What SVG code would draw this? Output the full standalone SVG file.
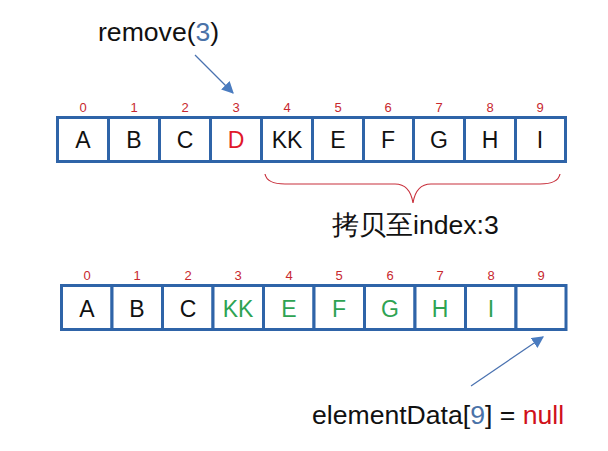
<svg xmlns="http://www.w3.org/2000/svg" width="608" height="451" viewBox="0 0 608 451">
<defs>
<style>
.cell{fill:#fff;stroke:#2F64A8;stroke-width:3}
.t{font-family:"Liberation Sans",Arial,sans-serif}
.idx{font-size:13px;fill:#C8282E;text-anchor:middle}
.v{font-size:23px;fill:#111;text-anchor:middle}
.red{fill:#E0182A}
.grn{fill:#2EA352}
.lbl{font-size:26.6px;fill:#111}
.blu{fill:#4A72A8}
.arr{stroke:#4A72B0;stroke-width:1.2;fill:none}
</style>
<marker id="ah" viewBox="0 0 10 10" refX="9" refY="5" markerWidth="12" markerHeight="12" markerUnits="userSpaceOnUse" orient="auto">
<path d="M0,0 L10,5 L0,10 z" fill="#4A7CC0"/>
</marker>
</defs>
<rect width="608" height="451" fill="#fff"/>
<g id="label-remove"><text class="t lbl" x="98" y="41">remove(<tspan class="blu">3</tspan>)</text></g>
<g id="row1">
<g id="r1c0"><rect class="cell" x="57.5" y="117.5" width="51" height="44"/><text class="t idx" x="83" y="112">0</text><text class="t v" x="83" y="148">A</text></g>
<g id="r1c1"><rect class="cell" x="108.5" y="117.5" width="51" height="44"/><text class="t idx" x="134" y="112">1</text><text class="t v" x="134" y="148">B</text></g>
<g id="r1c2"><rect class="cell" x="159.5" y="117.5" width="51" height="44"/><text class="t idx" x="185" y="112">2</text><text class="t v" x="185" y="148">C</text></g>
<g id="r1c3"><rect class="cell" x="210.5" y="117.5" width="51" height="44"/><text class="t idx" x="236" y="112">3</text><text class="t v red" x="236" y="148">D</text></g>
<g id="r1c4"><rect class="cell" x="261.5" y="117.5" width="51" height="44"/><text class="t idx" x="287" y="112">4</text><text class="t v" x="287" y="148">KK</text></g>
<g id="r1c5"><rect class="cell" x="312.5" y="117.5" width="51" height="44"/><text class="t idx" x="338" y="112">5</text><text class="t v" x="338" y="148">E</text></g>
<g id="r1c6"><rect class="cell" x="363.5" y="117.5" width="50" height="44"/><text class="t idx" x="388" y="112">6</text><text class="t v" x="388" y="148">F</text></g>
<g id="r1c7"><rect class="cell" x="413.5" y="117.5" width="51" height="44"/><text class="t idx" x="439" y="112">7</text><text class="t v" x="439" y="148">G</text></g>
<g id="r1c8"><rect class="cell" x="464.5" y="117.5" width="51" height="44"/><text class="t idx" x="490" y="112">8</text><text class="t v" x="490" y="148">H</text></g>
<g id="r1c9"><rect class="cell" x="515.5" y="117.5" width="50" height="44"/><text class="t idx" x="540" y="112">9</text><text class="t v" x="540" y="148">I</text></g>
</g>
<g id="brace"><path d="M265,174 Q267,184 285,184 L395,184 Q410,184 413,203 Q416,184 431,184 L540,184 Q558,184 560,174" fill="none" stroke="#C8303C" stroke-width="1.2"/></g>
<g id="label-copy"><text class="t lbl" x="332" y="234" font-size="27.5" font-family="'Liberation Sans','Noto Sans CJK SC',sans-serif">拷贝至index:3</text></g>
<g id="row2">
<g id="r2c0"><rect class="cell" x="61.5" y="285.5" width="50.5" height="44"/><text class="t idx" x="87" y="280">0</text><text class="t v" x="87" y="317">A</text></g>
<g id="r2c1"><rect class="cell" x="112" y="285.5" width="50.5" height="44"/><text class="t idx" x="137" y="280">1</text><text class="t v" x="137" y="317">B</text></g>
<g id="r2c2"><rect class="cell" x="162.5" y="285.5" width="50.5" height="44"/><text class="t idx" x="188" y="280">2</text><text class="t v" x="188" y="317">C</text></g>
<g id="r2c3"><rect class="cell" x="213" y="285.5" width="50.5" height="44"/><text class="t idx" x="238" y="280">3</text><text class="t v grn" x="238" y="317">KK</text></g>
<g id="r2c4"><rect class="cell" x="263.5" y="285.5" width="50.5" height="44"/><text class="t idx" x="289" y="280">4</text><text class="t v grn" x="289" y="317">E</text></g>
<g id="r2c5"><rect class="cell" x="314" y="285.5" width="50.5" height="44"/><text class="t idx" x="339" y="280">5</text><text class="t v grn" x="339" y="317">F</text></g>
<g id="r2c6"><rect class="cell" x="364.5" y="285.5" width="50.5" height="44"/><text class="t idx" x="390" y="280">6</text><text class="t v grn" x="390" y="317">G</text></g>
<g id="r2c7"><rect class="cell" x="415" y="285.5" width="50.5" height="44"/><text class="t idx" x="440" y="280">7</text><text class="t v grn" x="440" y="317">H</text></g>
<g id="r2c8"><rect class="cell" x="465.5" y="285.5" width="50.5" height="44"/><text class="t idx" x="491" y="280">8</text><text class="t v grn" x="491" y="317">I</text></g>
<g id="r2c9"><rect class="cell" x="516" y="285.5" width="50" height="44"/><text class="t idx" x="541" y="280">9</text></g>
</g>
<g id="label-null"><text class="t lbl" x="312" y="424">elementData[<tspan class="blu">9</tspan>] = <tspan fill="#D0101A">null</tspan></text></g>
<g id="connectors">
<line class="arr" x1="195" y1="55" x2="233" y2="93" marker-end="url(#ah)"/>
<line class="arr" x1="471" y1="386" x2="543" y2="337" marker-end="url(#ah)"/>
</g>
</svg>
